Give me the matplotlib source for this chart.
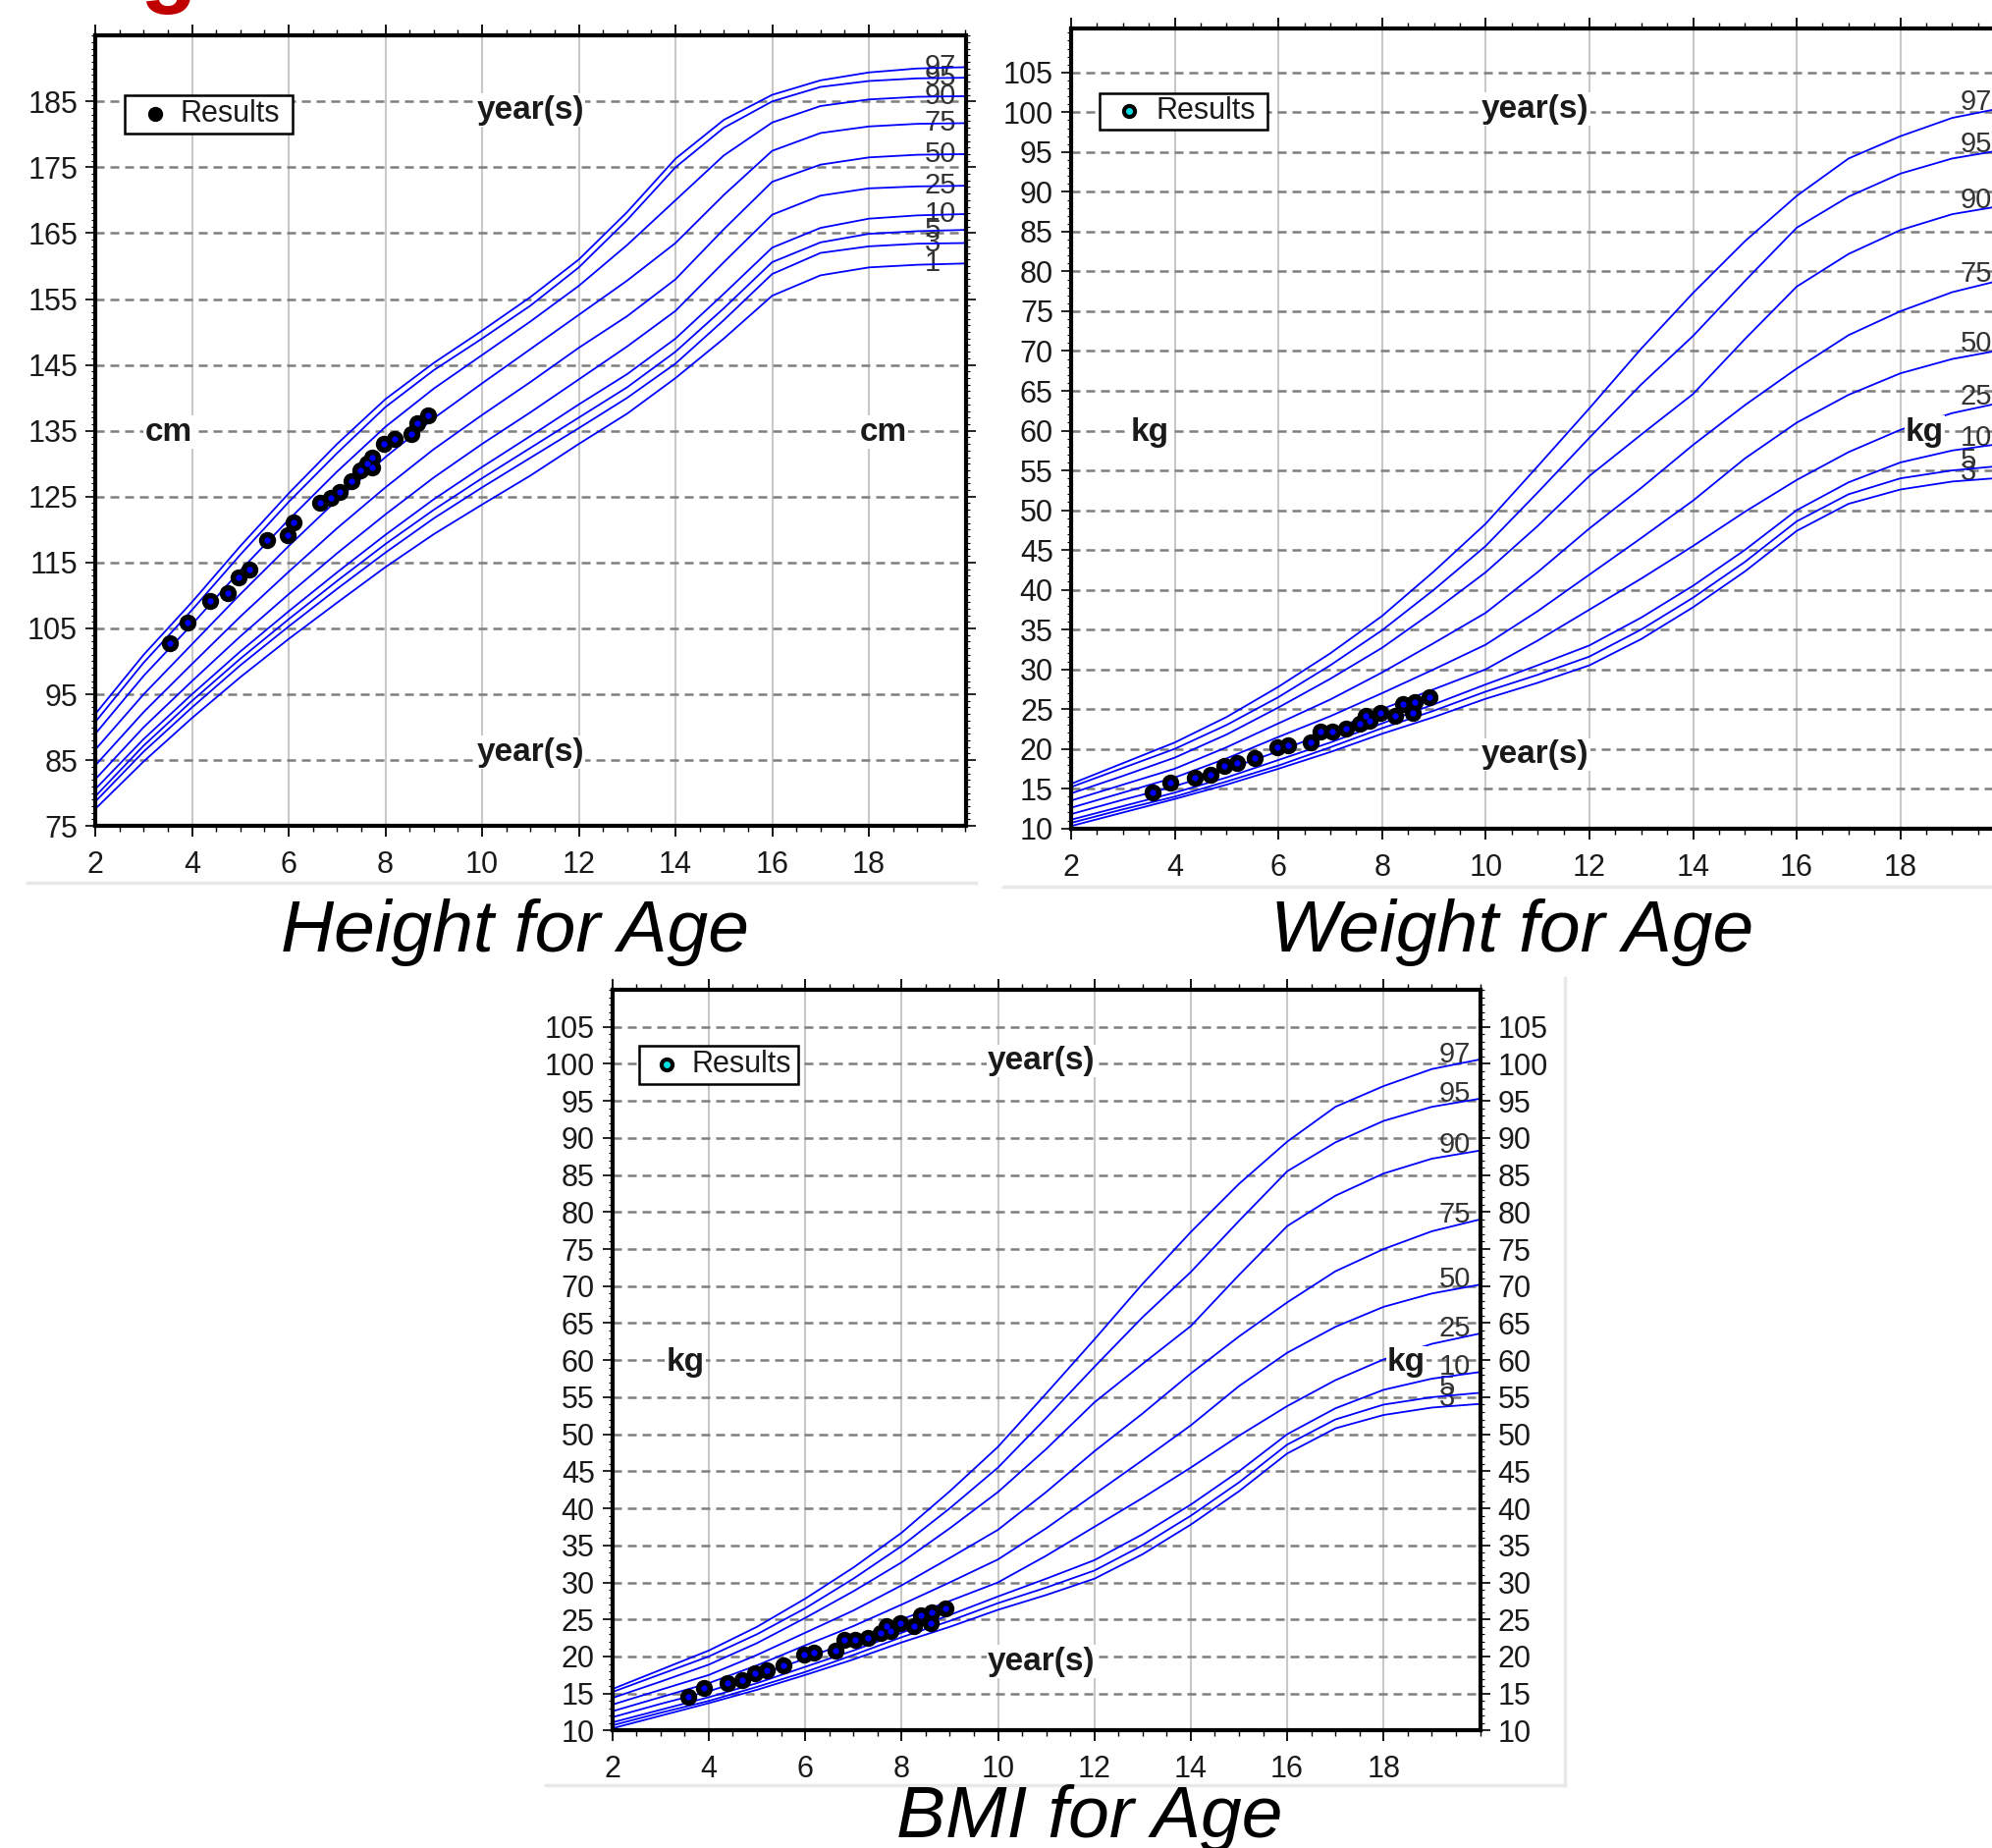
import matplotlib
matplotlib.use("Agg")
import matplotlib.pyplot as plt
from matplotlib.patches import Rectangle
from matplotlib.lines import Line2D
from matplotlib.ticker import MultipleLocator

plt.rcParams['font.family'] = ['Liberation Sans', 'DejaVu Sans']
plt.rcParams['lines.scale_dashes'] = False

W, H = 2029, 1882

# ---- data ----
ages = [2, 3, 4, 5, 6, 7, 8, 9, 10, 11, 12, 13, 14, 15, 16, 17, 18, 19, 20]

# height for age percentile curves (cm)
h97 = [92.0, 101.0, 109.0, 117.5, 125.5, 133.0, 139.8, 145.3, 150.2, 155.3, 161.0, 168.2, 176.3, 182.2, 186.0, 188.2, 189.4, 190.0, 190.2]
h95 = [90.8, 99.8, 107.8, 116.2, 124.2, 131.6, 138.6, 144.2, 149.0, 154.0, 159.8, 167.0, 175.0, 181.0, 185.0, 187.2, 188.1, 188.5, 188.6]
h90 = [89.0, 97.8, 105.6, 113.8, 121.5, 128.8, 135.6, 141.4, 146.5, 151.6, 157.0, 163.2, 170.0, 176.8, 181.8, 184.3, 185.3, 185.7, 185.8]
h75 = [86.6, 95.0, 102.6, 110.2, 117.5, 124.5, 131.0, 136.9, 142.2, 147.4, 152.6, 157.8, 163.5, 170.8, 177.5, 180.2, 181.2, 181.6, 181.7]
h50 = [84.2, 92.3, 99.6, 106.8, 113.6, 120.2, 126.4, 132.2, 137.4, 142.4, 147.6, 152.4, 158.0, 165.6, 172.8, 175.4, 176.5, 176.9, 177.0]
h25 = [82.1, 90.0, 97.0, 103.8, 110.2, 116.4, 122.3, 127.9, 133.0, 137.8, 142.8, 147.8, 153.2, 160.6, 167.8, 170.7, 171.8, 172.1, 172.2]
h10 = [80.6, 88.2, 95.0, 101.5, 107.6, 113.5, 119.2, 124.6, 129.5, 134.2, 139.0, 143.6, 149.0, 155.8, 162.8, 165.8, 167.2, 167.7, 167.9]
h05 = [79.5, 87.2, 94.0, 100.4, 106.4, 112.2, 117.8, 123.0, 127.8, 132.4, 137.0, 141.6, 147.0, 153.6, 160.6, 163.6, 164.9, 165.3, 165.5]
h03 = [78.7, 86.3, 93.0, 99.4, 105.3, 111.0, 116.5, 121.7, 126.4, 130.9, 135.4, 140.0, 145.2, 151.8, 158.8, 162.0, 163.0, 163.4, 163.5]
h01 = [77.6, 84.8, 91.4, 97.6, 103.4, 108.9, 114.3, 119.3, 123.8, 128.2, 133.0, 137.6, 143.0, 149.0, 155.5, 158.6, 159.8, 160.2, 160.4]
height_curves = [h97, h95, h90, h75, h50, h25, h10, h05, h03, h01]
height_labels = ['97', '95', '90', '75', '50', '25', '10', '5', '3', '1']

# weight for age percentile curves (kg)
w97 = [15.6, 18.2, 20.8, 24.0, 27.8, 32.0, 36.7, 42.3, 48.3, 55.5, 62.8, 70.3, 77.3, 83.8, 89.5, 94.2, 97.0, 99.3, 100.6]
w95 = [15.2, 17.6, 20.0, 23.0, 26.5, 30.5, 34.9, 40.0, 45.5, 52.2, 59.1, 65.8, 71.9, 78.8, 85.5, 89.4, 92.3, 94.2, 95.3]
w90 = [14.4, 16.6, 18.9, 21.8, 25.2, 28.8, 32.7, 37.3, 42.2, 48.0, 54.3, 59.5, 64.6, 71.5, 78.1, 82.2, 85.2, 87.2, 88.3]
w75 = [13.5, 15.5, 17.5, 20.2, 23.2, 26.2, 29.6, 33.3, 37.1, 42.2, 47.7, 52.8, 58.2, 63.2, 67.8, 72.0, 75.0, 77.4, 79.0]
w50 = [12.6, 14.5, 16.4, 18.8, 21.5, 24.1, 27.0, 30.0, 33.1, 37.3, 41.9, 46.5, 51.2, 56.5, 61.0, 64.5, 67.2, 69.0, 70.2]
w25 = [11.8, 13.6, 15.3, 17.4, 19.7, 22.2, 25.0, 27.5, 30.0, 33.6, 37.5, 41.4, 45.5, 49.8, 53.8, 57.3, 60.1, 62.2, 63.6]
w10 = [11.1, 12.8, 14.5, 16.4, 18.6, 20.8, 23.2, 25.6, 28.1, 30.5, 33.0, 36.5, 40.5, 45.0, 50.0, 53.5, 56.0, 57.5, 58.4]
w05 = [10.7, 12.4, 14.0, 15.9, 17.9, 20.2, 22.6, 24.8, 27.2, 29.3, 31.6, 35.0, 39.0, 43.5, 48.6, 52.0, 54.0, 55.0, 55.6]
w03 = [10.3, 12.0, 13.7, 15.5, 17.5, 19.6, 21.9, 24.0, 26.3, 28.3, 30.5, 33.8, 37.8, 42.3, 47.4, 50.8, 52.6, 53.6, 54.1]
weight_curves = [w97, w95, w90, w75, w50, w25, w10, w05, w03]
weight_labels = ['97', '95', '90', '75', '50', '25', '10', '5', '3']

# child's measurements
h_age = [3.55, 3.90, 4.38, 4.74, 4.97, 5.19, 5.55, 5.97, 6.10, 6.65, 6.88, 7.05, 7.29,
         7.49, 7.62, 7.73, 7.73, 7.97, 8.20, 8.54, 8.65, 8.89]
h_val = [102.7, 105.9, 109.2, 110.3, 112.7, 114.0, 118.4, 119.2, 121.1, 124.1, 124.8, 125.7, 127.3,
         129.0, 130.0, 130.9, 129.5, 133.0, 133.7, 134.5, 136.2, 137.4]
w_age = [3.58, 3.91, 4.39, 4.69, 4.95, 5.20, 5.55, 5.97, 6.19, 6.63, 6.81, 7.04, 7.30,
         7.57, 7.68, 7.76, 7.97, 8.25, 8.41, 8.60, 8.63, 8.91]
w_val = [14.5, 15.8, 16.4, 16.8, 17.8, 18.2, 18.8, 20.2, 20.5, 20.8, 22.2, 22.2, 22.5,
         23.2, 24.1, 23.5, 24.5, 24.1, 25.6, 24.5, 25.9, 26.5]

height_ticks = [75, 85, 95, 105, 115, 125, 135, 145, 155, 165, 175, 185]
weight_ticks = [10, 15, 20, 25, 30, 35, 40, 45, 50, 55, 60, 65, 70, 75, 80, 85, 90, 95, 100, 105]
age_ticks = [2, 4, 6, 8, 10, 12, 14, 16, 18]

BLUE = '#0000ff'
TXT = '#1a1a1a'


def fx(px):
    return px / W


def fy(py):
    return 1 - py / H


def panel(fig, box, ylim, yticks, curves, labels, lab_dy, unit, unit_pos,
          yr_top, yr_bot, ages_pts, vals_pts, legend_box, cyan, right_labels):
    left, top, right, bottom = box
    ax = fig.add_axes([fx(left), fy(bottom), (right - left) / W, (bottom - top) / H])
    ax.set_xlim(2, 20)
    ax.set_ylim(*ylim)
    ax.set_xticks(age_ticks)
    ax.xaxis.set_minor_locator(MultipleLocator(0.5))
    ax.set_yticks(yticks)
    ax.yaxis.set_minor_locator(MultipleLocator(1))
    ax.tick_params(axis='x', which='both', top=True, bottom=True, direction='out', colors='black')
    ax.tick_params(axis='x', which='major', length=8, width=1.3, labelsize=22, pad=10, labelcolor=TXT)
    ax.tick_params(axis='x', which='minor', length=4, width=1.0)
    ax.tick_params(axis='y', which='both', left=True, right=True, direction='out')
    ax.tick_params(axis='y', which='major', length=7, width=1.2, labelsize=22, pad=6,
                   labelcolor=TXT, labelright=right_labels)
    ax.tick_params(axis='y', which='minor', length=3, width=0.8)
    for s in ax.spines.values():
        s.set_linewidth(3)
        s.set_zorder(10)

    for x in age_ticks[1:]:
        ax.axvline(x, color='#c8c8c8', lw=1.5, zorder=0)
    for y in yticks:
        ax.axhline(y, color='#7f7f7f', lw=1.8, dashes=(6.5, 4.3), zorder=0.5)

    for c, lab in zip(curves, labels):
        ax.plot(ages, c, color=BLUE, lw=1.3, zorder=3)
        ax.text(19.15, c[-1] + lab_dy, lab, fontsize=21, color='#333333',
                ha='left', va='center', zorder=2)

    ax.plot(ages_pts, vals_pts, 'o', ms=11.5, mfc='black', mec='black', zorder=5)
    ax.plot(ages_pts, vals_pts, 'o', ms=3.5, mfc=BLUE, mec=BLUE, zorder=6)

    bb = dict(facecolor='white', edgecolor='none', pad=1)
    tk = dict(fontsize=24, fontweight='bold', ha='center', va='center', color=TXT, bbox=bb, zorder=4)
    ax.text(yr_top[0], yr_top[1], 'year(s)', **tk)
    ax.text(yr_bot[0], yr_bot[1], 'year(s)', **tk)
    ax.text(3.52, unit_pos[1], unit, **tk)
    ax.text(unit_pos[0], unit_pos[1], unit, **tk)

    # legend box
    x0, y0, x1, y1, mx, tx = legend_box
    ax.add_patch(Rectangle((x0, y1), x1 - x0, y0 - y1, transform=ax.transAxes,
                           facecolor='white', edgecolor='black', lw=1.8, zorder=7))
    ym = (y0 + y1) / 2
    ax.plot([mx], [ym], 'o', ms=10, mfc='black', mec='black', transform=ax.transAxes, zorder=8)
    if cyan:
        ax.plot([mx], [ym], 'o', ms=4, mfc='#00e0e0', mec='#00e0e0', transform=ax.transAxes, zorder=9)
    ax.text(tx, ym, 'Results', fontsize=22, color=TXT, ha='left', va='center',
            transform=ax.transAxes, zorder=9)
    return ax


fig = plt.figure(figsize=(W / 100, H / 100), dpi=100)
fig.patch.set_facecolor('white')

# height for age
panel(fig, (97.1, 36.2, 983.5, 841.2), (75, 195), height_ticks, height_curves, height_labels,
      0.0, 'cm', (18.3, 134.8), (11.0, 183.7), (11.0, 86.2), h_age, h_val,
      (0.034, 0.9245, 0.227, 0.876, 0.069, 0.098), False, False)

# weight for age (runs off the right edge)
panel(fig, (1090.9, 28.5, 2041.3, 843.7), (10, 110.6), weight_ticks, weight_curves, weight_labels,
      0.7, 'kg', (18.47, 59.8), (10.95, 100.4), (10.95, 19.3), w_age, w_val,
      (0.031, 0.919, 0.211, 0.873, 0.062, 0.091), True, True)

# BMI for age
panel(fig, (623.7, 1008.0, 1507.5, 1762.4), (10, 110), weight_ticks, weight_curves, weight_labels,
      0.7, 'kg', (18.47, 59.7), (10.9, 100.4), (10.9, 19.3), w_age, w_val,
      (0.031, 0.9244, 0.214, 0.873, 0.063, 0.091), True, True)

# panel separators
sep = dict(color='#e8e8e8', lw=2.5, transform=fig.transFigure)
fig.add_artist(Line2D([fx(28), fx(994)], [fy(899), fy(899)], **sep))
fig.add_artist(Line2D([fx(1022), fx(2029)], [fy(903), fy(903)], **sep))
fig.add_artist(Line2D([fx(556), fx(1594)], [fy(1818), fy(1818)], **sep))
fig.add_artist(Line2D([fx(1594), fx(1594)], [fy(996), fy(1818)], **sep))

# titles
tkw = dict(fontsize=54, style='italic', color='black', ha='center', va='center')
fig.text(fx(524), fy(949), 'Height for Age', **tkw)
fig.text(fx(1540), fy(949), 'Weight for Age', **tkw)
fig.text(fx(1110), fy(1852), 'BMI for Age', **tkw)

# cut-off red heading letter at the top edge
fig.text(fx(142), fy(-5), 'g', fontsize=68, fontweight='bold', color='#c00000',
         ha='left', va='baseline')

fig.savefig('out.png', dpi=100)
